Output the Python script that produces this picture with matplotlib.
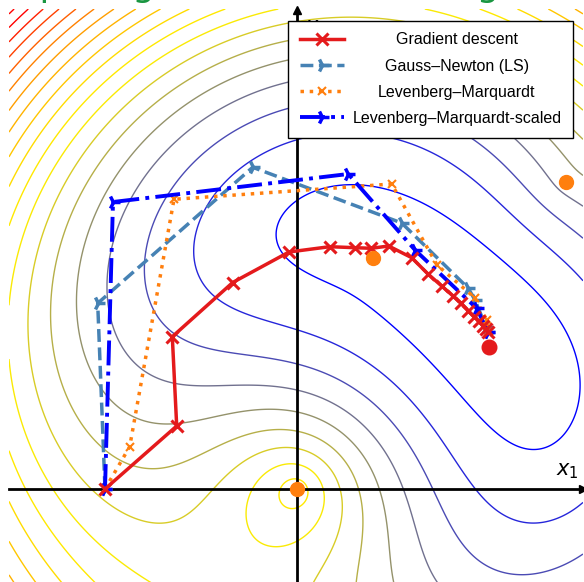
import numpy as np
import matplotlib
matplotlib.use("Agg")
import matplotlib.pyplot as plt
from matplotlib.colors import LinearSegmentedColormap

# ---- data ----
anchor_x = [0.00, 0.76, 2.69]
anchor_y = [0.00, 2.31, 3.07]
anchor_w = [1.0, 0.15, 0.3]
estimate = (1.91, 1.57)
true_pos = (1.92, 1.42)

gd_x = [-1.92, -1.203, -1.247, -0.643, -0.08, 0.327, 0.58, 0.743, 0.917, 1.147, 1.31, 1.45,
        1.557, 1.64, 1.713, 1.773, 1.82, 1.857, 1.887, 1.91]
gd_y = [0.00, 0.63, 1.523, 2.065, 2.37, 2.423, 2.413, 2.407, 2.43, 2.313, 2.15, 2.027,
        1.933, 1.857, 1.783, 1.723, 1.677, 1.633, 1.597, 1.57]
gn_x = [-1.92, -1.993, -0.443, 1.047, 1.713, 1.78, 1.89, 1.91]
gn_y = [0.00, 1.857, 3.217, 2.66, 2.007, 1.89, 1.62, 1.57]
lm_x = [-1.92, -1.673, -1.23, 0.947, 1.40, 1.78, 1.897, 1.91]
lm_y = [0.00, 0.423, 2.897, 3.05, 2.24, 1.91, 1.69, 1.57]
lms_x = [-1.92, -1.84, 0.513, 1.18, 1.797, 1.91]
lms_y = [0.00, 2.87, 3.15, 2.39, 1.807, 1.57]

labels = ["Gradient descent", "Gauss–Newton (LS)", "Levenberg–Marquardt",
          "Levenberg–Marquardt-scaled"]

level_start, level_step, n_levels, n_color = 0.5, 0.86, 34, 17
cmap_stops = [(0.0, "#0000ff"), (0.2, "#808080"), (0.42, "#ffee00"), (0.5, "#ffe600"),
              (0.72, "#ff9900"), (1.0, "#ff0000")]

ranges = [np.hypot(estimate[0] - ax_, estimate[1] - ay_) for ax_, ay_ in zip(anchor_x, anchor_y)]

W, H = 584, 582
fig = plt.figure(figsize=(W / 100, H / 100), dpi=100)
ax = fig.add_axes([9 / W, -8 / H, (583 - 9) / W, (590 - 9) / H])
ax.set_xlim(-2.88, 2.86)
ax.set_ylim(-1.01, 4.80)

xx, yy = np.meshgrid(np.linspace(-2.88, 2.86, 600), np.linspace(-1.01, 4.80, 600))
F = np.zeros_like(xx)
for ax_, ay_, w, r in zip(anchor_x, anchor_y, anchor_w, ranges):
    F += w * (np.hypot(xx - ax_, yy - ay_) - r) ** 2

cmap = LinearSegmentedColormap.from_list("byr", cmap_stops)
levels = level_start + level_step * np.arange(n_levels)
ax.contour(xx, yy, F, levels=levels, cmap=cmap, vmin=level_start,
           vmax=level_start + level_step * n_color, linewidths=1.0, zorder=1)

# axes through origin
for s in ["top", "right"]:
    ax.spines[s].set_visible(False)
ax.spines["left"].set_position(("data", 0))
ax.spines["bottom"].set_position(("data", 0))
ax.spines["left"].set_linewidth(2)
ax.spines["bottom"].set_linewidth(2)
ax.set_xticks([])
ax.set_yticks([])
ax.plot(1, 0, ">k", ms=6, transform=ax.get_yaxis_transform(), clip_on=False)
ax.plot(0, 0.998, "^k", ms=6, transform=ax.get_xaxis_transform(), clip_on=False)
ax.text(2.70, 0.08, "$x_1$", fontsize=15, ha="center", va="bottom")
ax.text(0.19, 4.71, "$x_2$", fontsize=15, ha="center", va="top")

ax.plot(gd_x, gd_y, "-x", color="#e41a1c", lw=2.5, ms=8, mew=2.2, label=labels[0], zorder=5)
ax.plot(gn_x, gn_y, "--4", color="#4682b4", lw=2.5, ms=10, mew=2.5, label=labels[1], zorder=4)
ax.plot(lm_x, lm_y, ":x", color="#ff7f0e", lw=2.5, ms=6, mew=1.5, label=labels[2], zorder=4)
ax.plot(lms_x, lms_y, "-.4", color="#0000ff", lw=2.8, ms=10, mew=2.5, label=labels[3], zorder=4)

ax.plot(anchor_x, anchor_y, "o", color="#ff7f0e", ms=10, zorder=6, clip_on=False)
ax.plot([true_pos[0]], [true_pos[1]], "o", color="#e41a1c", ms=10.5, zorder=6)

leg = ax.legend(loc="upper right", bbox_to_anchor=(573 / W, 1 - 21 / H),
                bbox_transform=fig.transFigure, borderaxespad=0, fancybox=False,
                framealpha=1, edgecolor="black", handlelength=2.8, handletextpad=0.5,
                labelspacing=0.7, borderpad=0.72,
                prop={"family": "Liberation Sans", "size": 11.5})
leg.get_frame().set_linewidth(1.0)
leg.set_zorder(10)
fig.canvas.draw()
r = fig.canvas.get_renderer()
widths = [t.get_window_extent(r).width for t in leg.get_texts()]
wmax = max(widths)
for t, w in zip(leg.get_texts(), widths):
    t.set_position(((wmax - w) / 2, 0))

fig.text(297 / W, 1 + 4 / H, "Comparing Gauss–Newton algorithms", color="#1a9641",
         fontsize=26, ha="center", va="baseline")

fig.savefig("out.png", dpi=100)
